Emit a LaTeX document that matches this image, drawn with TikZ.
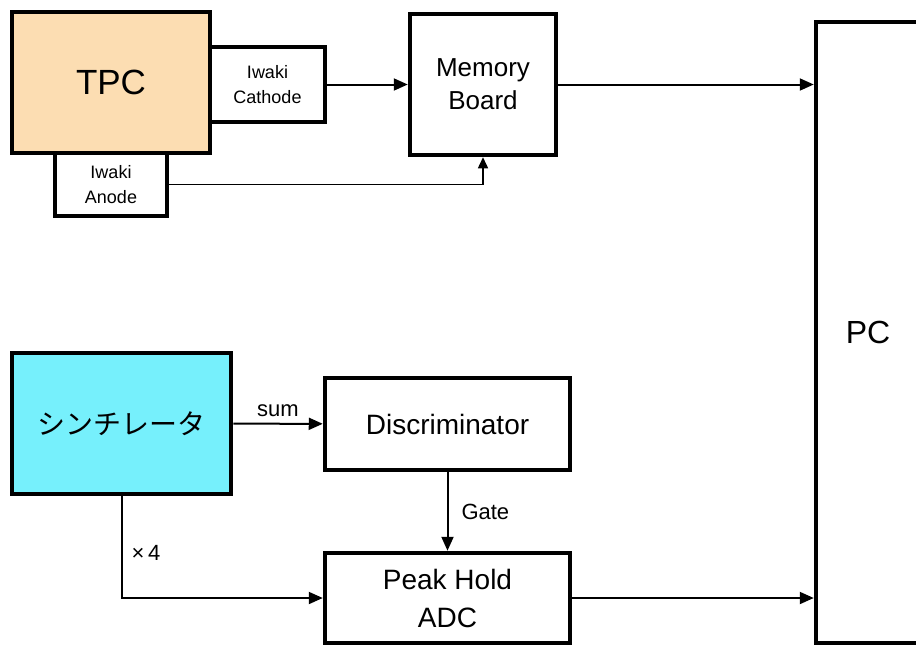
\documentclass[tikz,border=0pt]{standalone}
\usepackage{fontspec}
\setmainfont{Liberation Sans}
\newfontfamily\jpfont{Noto Sans CJK JP}
\usetikzlibrary{arrows.meta, positioning}
\definecolor{tpcfill}{RGB}{252,221,178}
\definecolor{scintfill}{RGB}{118,240,252}

\begin{document}
\begin{tikzpicture}[x=1pt, y=-1pt,
    box/.style={draw, line width=4.5pt, align=center, fill=white, inner sep=0pt},
    bigbox/.style={box, font=\fontsize{28}{38}\selectfont},
    smallbox/.style={box, font=\fontsize{18}{25}\selectfont},
    lbl/.style={font=\fontsize{22}{24}\selectfont, inner sep=0pt},
    arrow/.style={-{Triangle[length=14pt, width=12pt]}, line width=2pt},
    thinarrow/.style={-{Triangle[length=11pt, width=10pt]}, line width=1.5pt},
]
\clip (0,0) rectangle (916,646);
\fill[white] (0,0) rectangle (916,646);

% ===== TPC 側 =====
\node[box, fill=tpcfill, minimum width=198pt, minimum height=141pt,
      font=\fontsize{35}{40}\selectfont] (tpc) at (111, 82.5) {TPC};
\node[smallbox, minimum width=115pt, minimum height=75pt] (cathode) at (267.5, 84.5) {Iwaki\\Cathode};
\node[smallbox, minimum width=112pt, minimum height=63pt] (anode) at (111, 184.5) {Iwaki\\Anode};
\node[box, minimum width=146pt, minimum height=141pt,
      font=\fontsize{26}{33}\selectfont] (memory) at (483, 84.5) {\raisebox{-4pt}{Memory}\\\raisebox{-4pt}{Board}};

% ===== PC =====
\node[box, minimum width=104pt, minimum height=621pt,
      font=\fontsize{32}{36}\selectfont] (pc) at (868, 332.5) {\raisebox{-6pt}{PC}};

% ===== シンチレータ側 =====
\node[box, fill=scintfill, minimum width=219pt, minimum height=141pt,
      font=\jpfont\fontsize{28}{32}\selectfont] (scint) at (121.5, 423.5) {シンチレータ};
\node[bigbox, minimum width=245pt, minimum height=92pt] (disc) at (447.5, 424) {Discriminator};
\node[bigbox, minimum width=245pt, minimum height=90pt] (peak) at (447.5, 598) {\raisebox{-4pt}{Peak Hold}\\\raisebox{-4pt}{ADC}};

% ===== 接続 =====
\draw[arrow] (cathode) -- (memory);
\draw[thinarrow] (anode.east) -| (memory.south);
\draw[arrow] (memory.east) -- (memory.east -| pc.west);
\draw[arrow] (scint) -- node[lbl, above=6pt] {sum} (disc);
\draw[arrow] (disc) -- node[lbl, right=13pt] {Gate} (peak);
\draw[arrow] (scint.south) |- node[lbl, pos=0.28, right=9pt] {×\,4} (peak.west);
\draw[arrow] (peak.east) -- (peak.east -| pc.west);
\end{tikzpicture}
\end{document}
